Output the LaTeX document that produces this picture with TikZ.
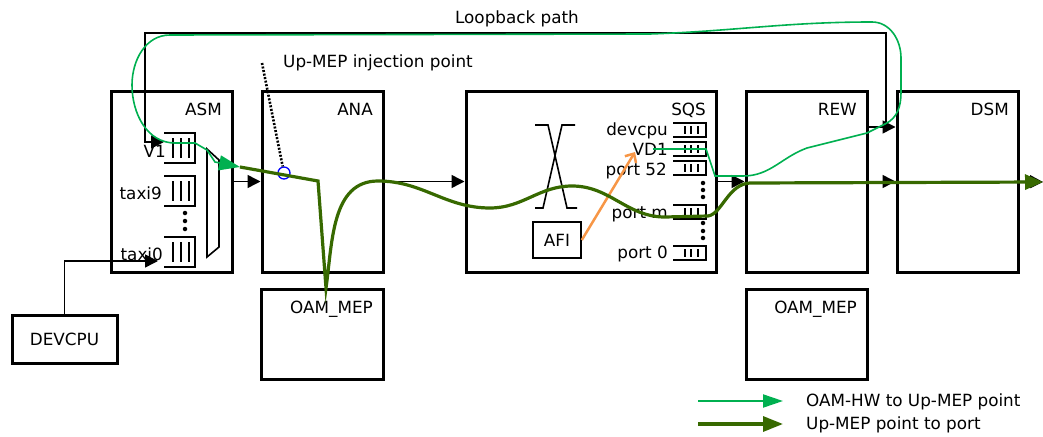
\documentclass[tikz,border=0pt]{standalone}
\usepackage{fontspec}
\setmainfont{DejaVu Sans}
\usetikzlibrary{arrows.meta}
\definecolor{lgreen}{RGB}{0,176,80}
\definecolor{dgreen}{RGB}{55,105,0}
\definecolor{aorange}{RGB}{247,150,70}
\tikzset{
  blk/.style={draw, line width=3pt, rectangle, inner sep=0pt},
  lbl/.style={inner sep=0pt, font=\fontsize{16.8}{20}\selectfont},
  arr/.style={line width=1.5pt, -{Triangle[length=13pt,width=13pt]}},
  thinln/.style={line width=1.6pt},
  lg/.style={draw=lgreen, line width=1.6pt},
  dg/.style={draw=dgreen, line width=3.2pt},
  dotb/.style={fill=black, circle, inner sep=0pt, minimum size=4.5pt},
  qa/.pic={\draw[line width=1.5pt] (0,0) -- (31,0) -- (31,30) -- (0,30);
    \draw[line width=1.8pt] (9,5)--(9,25) (17,5)--(17,25) (25,5)--(25,25);},
  qs/.pic={\draw[line width=1.5pt] (0,0) -- (33,0) -- (33,14) -- (0,14);
    \draw[line width=1.6pt] (12,3)--(12,11) (18,3)--(18,11) (25,3)--(25,11);},
}
\begin{document}
\begin{tikzpicture}[x=1pt,y=-1pt]
\useasboundingbox (0,0) rectangle (1043,436);
% main boxes
\node[blk, minimum width=121pt, minimum height=181pt] (asm) at (171.5,181.5) {};
\node[blk, minimum width=121pt, minimum height=181pt] (ana) at (322.5,181.5) {};
\node[blk, minimum width=250pt, minimum height=181pt] (sqs) at (591,181.5) {};
\node[blk, minimum width=121pt, minimum height=181pt] (rew) at (806.5,181.5) {};
\node[blk, minimum width=121pt, minimum height=181pt] (dsm) at (957.5,181.5) {};
\node[blk, minimum width=122pt, minimum height=90pt] (oam1) at (322,334) {};
\node[blk, minimum width=121pt, minimum height=90pt] (oam2) at (806.5,334) {};
\node[blk, lbl, minimum width=105pt, minimum height=48pt] (devcpu) at (64.5,339) {DEVCPU};
\node[blk, lbl, line width=1.6pt, minimum width=48pt, minimum height=36pt] (afi) at (557,240) {AFI};
% box titles
\node[lbl, anchor=base east] (asmt) at (222,115) {ASM};
\node[lbl, anchor=base east] (anat) at (373,115) {ANA};
\node[lbl, anchor=base east] (sqst) at (706,115) {SQS};
\node[lbl, anchor=base east] (rewt) at (857,115) {REW};
\node[lbl, anchor=base east] (dsmt) at (1009,115) {DSM};
\node[lbl, anchor=base east] (oam1t) at (373,313) {OAM\_MEP};
\node[lbl, anchor=base east] (oam2t) at (857,313) {OAM\_MEP};
% ASM queues
\pic (qv1) at (164,133) {qa};
\pic (qt9) at (164,176) {qa};
\pic (qt0) at (164,237) {qa};
\node[lbl, anchor=base east] (v1t) at (166,157) {V1};
\node[lbl, anchor=base east] (t9t) at (162,199) {taxi9};
\node[lbl, anchor=base east] (t0t) at (163,260) {taxi0};
\node[dotb] (ad1) at (185,213) {};
\node[dotb] (ad2) at (185,221) {};
\node[dotb] (ad3) at (185,229) {};
% mux
\draw[thinln] (207,149) -- (219,160) -- (219,247) -- (207,257) -- cycle;
% SQS queues
\pic (qdc) at (673,123) {qs};
\pic (qvd) at (673,142) {qs};
\pic (q52) at (673,161) {qs};
\pic (qpm) at (673,205) {qs};
\pic (qp0) at (673,246) {qs};
\node[lbl, anchor=base east] (dct) at (668,135) {devcpu};
\node[lbl, anchor=base east] (vdt) at (668,155) {VD1};
\node[lbl, anchor=base east] (p52t) at (667,175) {port 52};
\node[lbl, anchor=base east] (pmt) at (668,218) {port m};
\node[lbl, anchor=base east] (p0t) at (668,258) {port 0};
\node[dotb] (sd1) at (703,183) {};
\node[dotb] (sd2) at (703,190) {};
\node[dotb] (sd3) at (703,197) {};
\node[dotb] (sd4) at (703,223) {};
\node[dotb] (sd5) at (703,231) {};
\node[dotb] (sd6) at (703,238) {};
% crossbar symbol
\draw[thinln] (535,125) -- (548,125) -- (567,208) -- (577,208);
\draw[thinln] (575,125) -- (562,125) -- (543,208) -- (535,208);
% main black arrows
\coordinate (outpt) at (1043,182);
\draw[arr] (asm.east) -- (ana.west);
\draw[arr] (ana.east) -- (sqs.west);
\draw[arr] (sqs.east) -- (rew.west);
\draw[arr] (rew.east) -- (dsm.west);
\draw[arr] (dsm.east) -- (outpt);
% loopback
\coordinate (lbA) at (886,127);
\coordinate (v1in) at (164,142);
\coordinate (t0in) at (158,261);
\draw[arr] (rew.east |- lbA) -- (dsm.west |- lbA);
\draw[arr] (lbA) -- (886,33) -- (145,33) -- (145,142) -- (v1in);
\node[lbl, anchor=base] (lbt) at (517,24) {Loopback path};
\draw[arr] (devcpu.north) |- (t0in);
% injection point
\node[circle, draw=blue, line width=1.3pt, minimum size=12pt, inner sep=0pt] (inj) at (284,173) {};
\coordinate (injtop) at (262,63);
\draw[line width=2.6pt, dash pattern=on 2pt off 1.6pt] (injtop) -- (inj);
\node[lbl, anchor=base west] (injt) at (283,67) {Up-MEP injection point};
% orange arrow
\coordinate (vdtip) at (635,152);
\draw[aorange, line width=2.5pt, -{Straight Barb[length=7pt,width=13pt]}] (afi.east) -- (vdtip);
% green loop path
\coordinate (vdstart) at (653,149);
\coordinate (grnend) at (240,167);
\draw[lg, -{Triangle[length=21pt,width=15pt]}] (vdstart) -- (706,149) -- (715,176) -- (743,176)
  to[out=0,in=200] (807,148) -- (867,133) -- (885,124) to[out=25,in=-90] (901,92) -- (901,58)
  to[out=90,in=0] (872,22) to[out=180,in=2] (650,34) -- (170,35)
  to[out=180,in=90] (132,85) to[out=-90,in=180] (175,143) -- (195,143) -- (207,150)
  -- (215,162) -- (grnend);
% dark green path
\draw[dg, -{Triangle[length=18pt,width=15pt]}] (grnend) -- (318,181) -- (326,288)
  to[out=82,in=180] (378,181) to[out=0,in=180] (490,208) to[out=0,in=180] (572,186)
  to[out=0,in=180] (665,217) -- (708,216) .. controls (722,214) and (728,184) .. (750,183)
  -- (outpt);
% legend
\coordinate (l1a) at (698,401); \coordinate (l1b) at (783,401);
\coordinate (l2a) at (698,424); \coordinate (l2b) at (783,424);
\draw[draw=lgreen, line width=2pt, -{Triangle[length=20pt,width=13pt]}] (l1a) -- (l1b);
\draw[dg, line width=3.2pt, -{Triangle[length=20pt,width=15pt]}] (l2a) -- (l2b);
\node[lbl, anchor=base west] (leg1) at (806,406) {OAM-HW to Up-MEP point};
\node[lbl, anchor=base west] (leg2) at (806,429) {Up-MEP point to port};
\end{tikzpicture}
\end{document}
